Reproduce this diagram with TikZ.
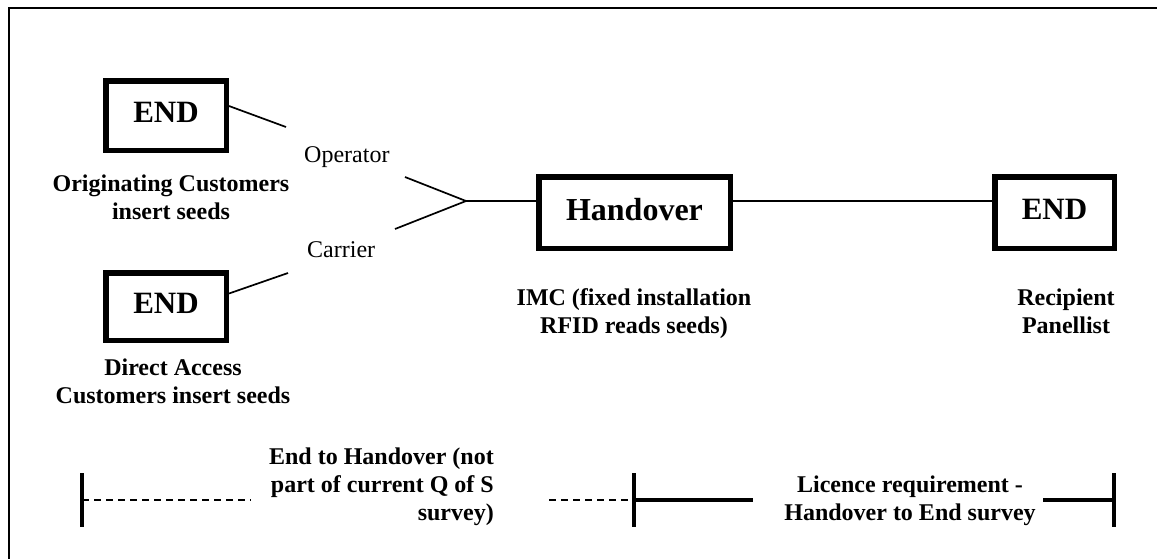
\documentclass[tikz,border=0pt]{standalone}
\usepackage{fontspec}
\setmainfont{Liberation Serif}
\newcommand\mylines[2]{\begin{tabular}[t]{@{}#1@{}}#2\end{tabular}}
\begin{document}
\begin{tikzpicture}[x=1pt,y=-1pt,
  box/.style={draw, line width=5.5pt, inner sep=0pt, text depth=7pt,
    font=\bfseries\fontsize{31}{36}\selectfont},
  conn/.style={line width=1.7pt},
  lbl/.style={inner sep=0pt, anchor=base, font=\bfseries\fontsize{24}{28}\selectfont},
  plainlbl/.style={inner sep=0pt, anchor=base west, font=\fontsize{24}{28}\selectfont},
  tickline/.style={line width=3.4pt},
  barline/.style={line width=3.2pt},
  dashline/.style={line width=1.3pt, dash pattern=on 7pt off 5pt},
  frameline/.style={line width=2pt}]
\useasboundingbox (0,0) rectangle (1157,558);
\fill[white] (0,0) rectangle (1157,558);
\draw[frameline] (9,565) -- (9,7.5) -- (1165,7.5);

% boxes
\node[box, minimum width=120.5pt, minimum height=69.5pt] (b1) at (166,115.5) {END};
\node[box, minimum width=120.5pt, minimum height=67.5pt] (b2) at (166,306.5) {END};
\node[box, minimum width=191.5pt, minimum height=71.5pt,
      font=\bfseries\fontsize{32}{36}\selectfont] (hand) at (634.5,212.5) {Handover};
\node[box, minimum width=119.5pt, minimum height=71.5pt] (bR) at (1054.5,212.5) {END};

% connectors
\coordinate (o1) at (286,127);
\coordinate (f1) at (405,177);
\coordinate (fork) at (466,201);
\coordinate (f2) at (395,229);
\coordinate (c1) at (288,273);
\draw[conn] ([yshift=9.5pt]b1.east) -- (o1);
\draw[conn] ([yshift=13pt]b2.east) -- (c1);
\draw[conn] (f1) -- (fork) -- (f2);
\draw[conn] (fork) -- (fork -| hand.west);
\draw[conn] (fork -| hand.east) -- (fork -| bR.west);

% labels
\node[plainlbl] (op) at (304,162) {Operator};
\node[plainlbl] (car) at (307,257) {Carrier};
\node[lbl] (l1) at (171,191) {\mylines{c}{Originating Customers\\insert seeds}};
\node[lbl] (l2) at (173,375) {\mylines{c}{Direct Access\\Customers insert seeds}};
\node[lbl] (l3) at (634,305) {\mylines{c}{IMC (fixed installation\\RFID reads seeds)}};
\node[lbl] (l4) at (1066,305) {\mylines{c}{Recipient\\Panellist}};
\node[lbl, anchor=base east] (l5) at (494,464) {\mylines{r}{End to Handover (not\\part of current Q of S\\survey)}};
\node[lbl] (l6) at (910,492) {\mylines{c}{Licence requirement -\\Handover to End survey}};

% bottom scale
\coordinate (t1) at (82,500);
\coordinate (t2) at (634,500);
\coordinate (t3) at (1114,500);
\coordinate (d1) at (251,500);
\coordinate (d2) at (549,500);
\coordinate (s1) at (753,500);
\coordinate (s2) at (1043,500);
\draw[tickline] ([yshift=27pt]t1) -- ([yshift=-27pt]t1);
\draw[tickline] ([yshift=27pt]t2) -- ([yshift=-27pt]t2);
\draw[tickline] ([yshift=27pt]t3) -- ([yshift=-27pt]t3);
\draw[dashline] (t1) -- (d1);
\draw[dashline] (d2) -- (t2);
\draw[barline] (t2) -- (s1);
\draw[barline] (s2) -- (t3);
\end{tikzpicture}
\end{document}
